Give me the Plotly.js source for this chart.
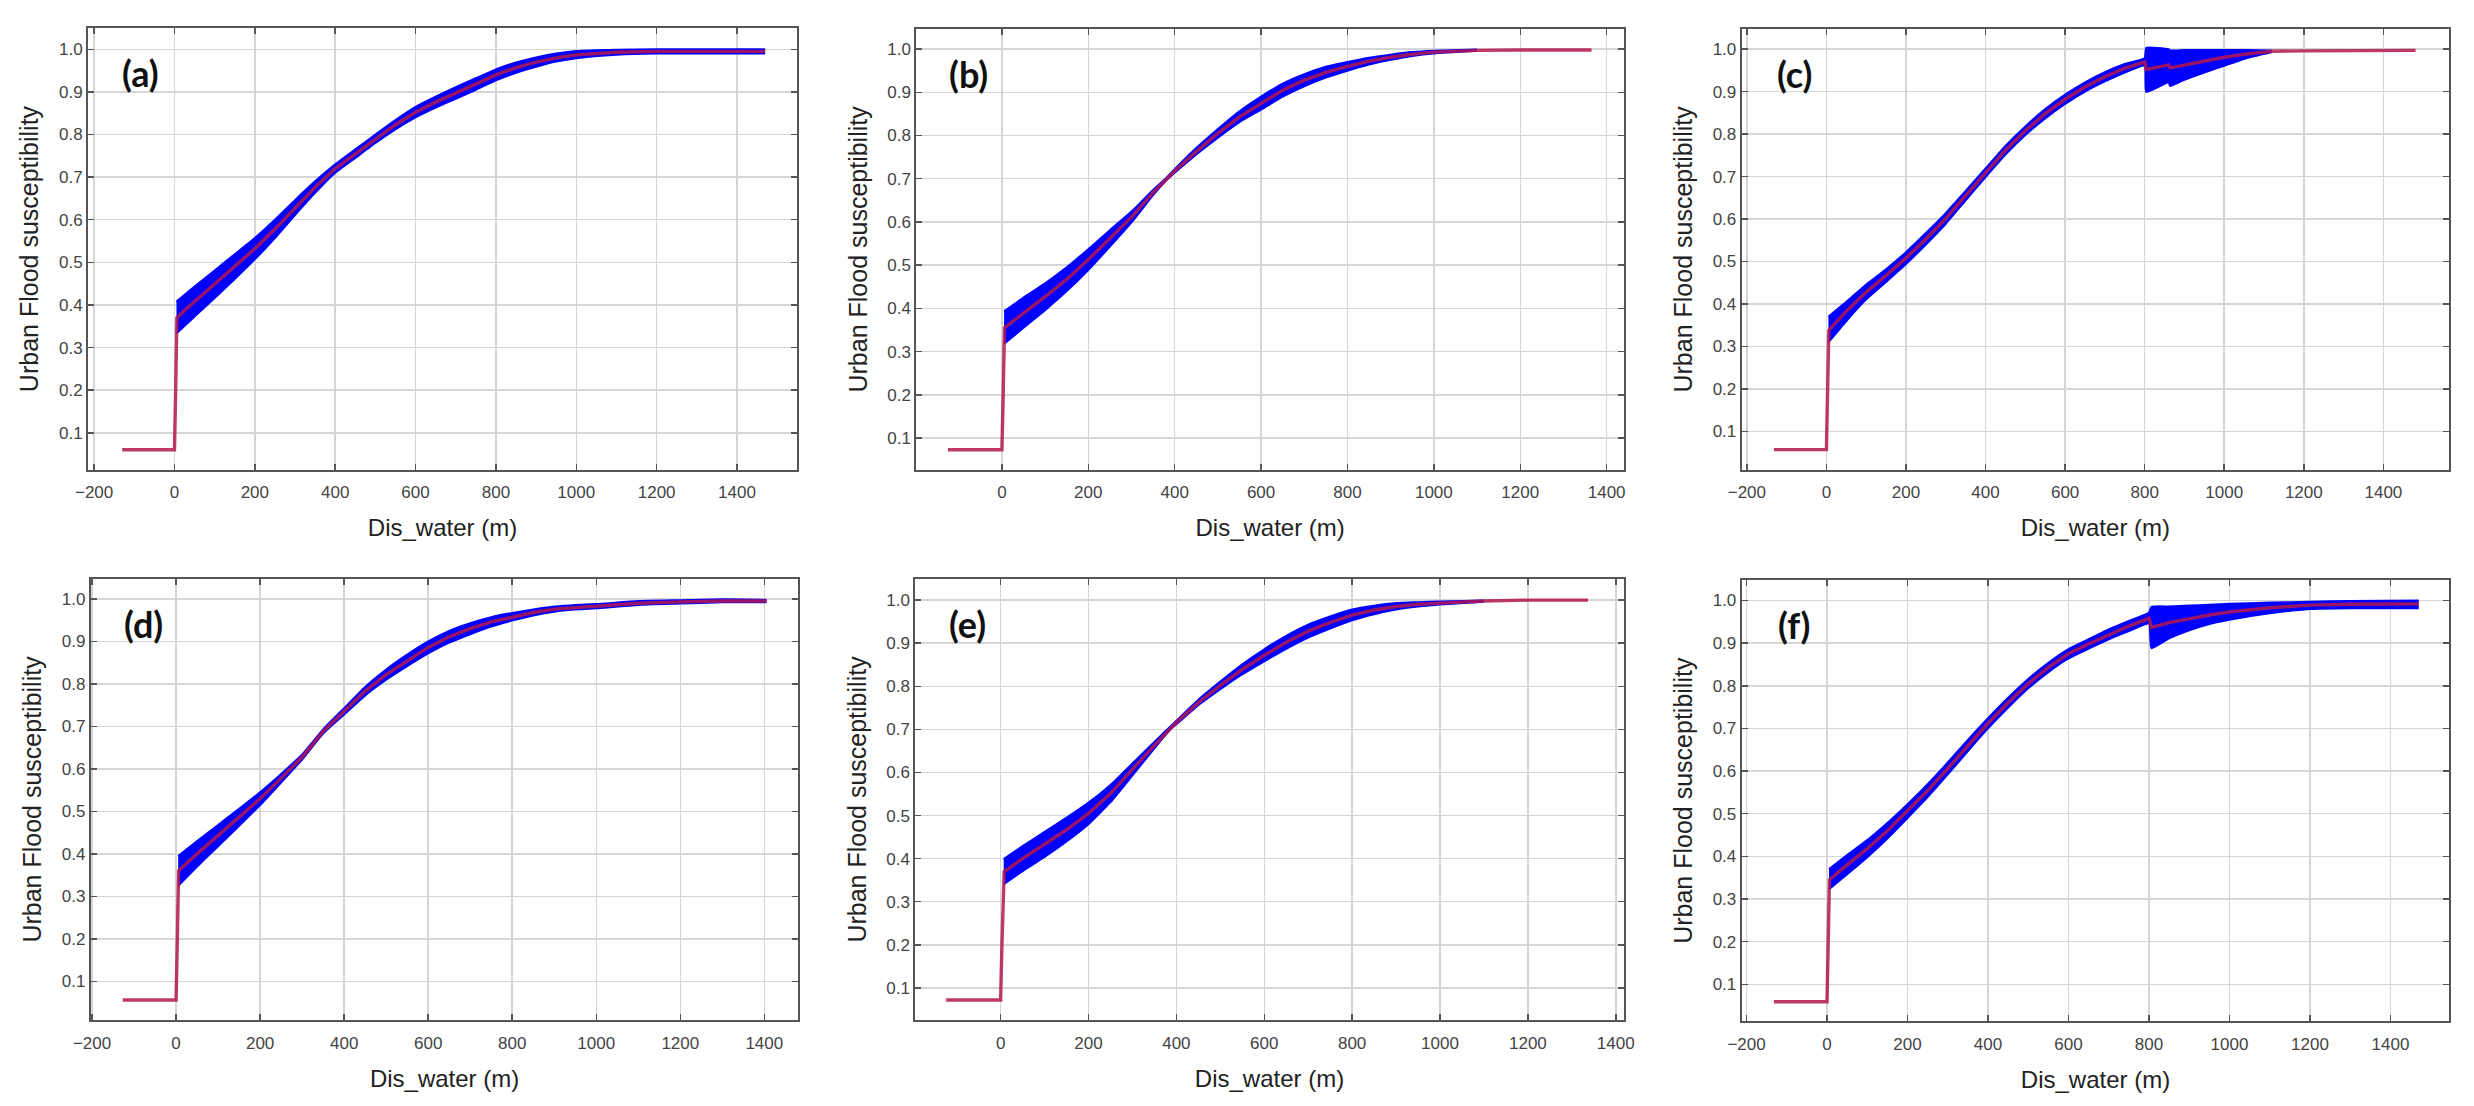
<!DOCTYPE html>
<html>
<head>
<meta charset="utf-8">
<script src="https://cdn.plot.ly/plotly-3.0.1.min.js"></script>
<style>
  html, body { margin: 0; padding: 0; background: #fff; }
  #myDiv { width: 2474px; height: 1106px; }
</style>
</head>
<body>
<div id="myDiv"></div>
<script>
// mean response curve (red) and envelope (blue) for every panel

// (a)
var aX = [-130, 0, 3, 6, 25, 50, 75, 100, 150, 200, 250, 300, 350, 400, 450, 500, 550, 600, 650, 700, 750, 800, 850, 900, 950, 1000, 1100, 1200, 1470];
var aMean = [0.06, 0.06, 0.2, 0.37, 0.387, 0.408, 0.428, 0.448, 0.49, 0.532, 0.578, 0.628, 0.676, 0.72, 0.755, 0.79, 0.823, 0.852, 0.876, 0.897, 0.918, 0.94, 0.957, 0.97, 0.98, 0.987, 0.993, 0.995, 0.995];
var aBandX = [5, 50, 100, 150, 200, 250, 300, 350, 400, 450, 500, 550, 600, 650, 700, 750, 800, 850, 900, 950, 1000, 1100, 1200, 1300, 1470];
var aUpper = [0.408, 0.443, 0.481, 0.519, 0.557, 0.600, 0.646, 0.690, 0.730, 0.765, 0.800, 0.834, 0.865, 0.889, 0.911, 0.932, 0.953, 0.969, 0.981, 0.990, 0.996, 0.999, 1.0, 1.0, 1.0];
var aLower = [0.333, 0.373, 0.416, 0.461, 0.507, 0.557, 0.611, 0.663, 0.710, 0.745, 0.780, 0.812, 0.840, 0.863, 0.884, 0.905, 0.927, 0.945, 0.959, 0.971, 0.979, 0.987, 0.990, 0.990, 0.990];

// (b)
var bX = [-125, 0, 3, 6, 25, 50, 75, 100, 150, 200, 250, 300, 350, 400, 450, 500, 550, 600, 650, 700, 750, 800, 850, 900, 950, 1000, 1100, 1200, 1365];
var bMean = [0.073, 0.073, 0.2, 0.355, 0.37, 0.39, 0.408, 0.427, 0.467, 0.513, 0.562, 0.611, 0.668, 0.718, 0.763, 0.805, 0.843, 0.875, 0.905, 0.928, 0.946, 0.96, 0.972, 0.981, 0.988, 0.993, 0.997, 0.998, 0.998];
var bBandX = [5, 50, 100, 150, 200, 250, 300, 350, 380, 400, 450, 500, 550, 600, 650, 700, 750, 800, 850, 900, 950, 1000, 1100];
var bUpper = [0.393, 0.425, 0.458, 0.495, 0.537, 0.581, 0.624, 0.674, 0.701, 0.722, 0.771, 0.815, 0.856, 0.890, 0.920, 0.942, 0.959, 0.970, 0.980, 0.987, 0.993, 0.996, 0.999];
var bLower = [0.318, 0.355, 0.396, 0.440, 0.489, 0.543, 0.599, 0.662, 0.696, 0.714, 0.756, 0.795, 0.831, 0.860, 0.890, 0.914, 0.934, 0.950, 0.964, 0.975, 0.984, 0.990, 0.996];

// (c)
var cX = [-132, 0, 3, 6, 50, 100, 150, 200, 250, 300, 350, 400, 450, 500, 550, 600, 650, 700, 750, 800, 804, 830, 860, 864, 900, 950, 1000, 1050, 1120, 1200, 1481];
var cMean = [0.057, 0.057, 0.2, 0.338, 0.383, 0.428, 0.467, 0.508, 0.553, 0.601, 0.655, 0.709, 0.762, 0.808, 0.848, 0.882, 0.911, 0.935, 0.955, 0.97, 0.952, 0.957, 0.963, 0.956, 0.963, 0.973, 0.981, 0.988, 0.995, 0.996, 0.997];
var cBandX = [5, 50, 100, 150, 200, 250, 300, 350, 400, 450, 500, 550, 600, 650, 700, 750, 800, 804, 860, 864, 900, 950, 1000, 1050, 1120];
var cUpper = [0.37, 0.405, 0.446, 0.482, 0.522, 0.567, 0.614, 0.666, 0.719, 0.772, 0.818, 0.859, 0.893, 0.922, 0.946, 0.965, 0.979, 1.003, 1.0, 0.997, 0.998, 0.998, 0.998, 0.998, 0.997];
var cLower = [0.31, 0.36, 0.411, 0.452, 0.494, 0.540, 0.589, 0.644, 0.699, 0.752, 0.798, 0.837, 0.871, 0.900, 0.924, 0.945, 0.961, 0.899, 0.922, 0.913, 0.928, 0.945, 0.961, 0.977, 0.993];

// (d)
var dX = [-127, 0, 3, 6, 50, 100, 150, 200, 250, 300, 350, 400, 450, 500, 550, 600, 650, 700, 750, 800, 850, 900, 950, 1000, 1100, 1200, 1300, 1405];
var dMean = [0.056, 0.056, 0.2, 0.36, 0.40, 0.443, 0.486, 0.53, 0.578, 0.628, 0.688, 0.735, 0.783, 0.822, 0.855, 0.886, 0.911, 0.93, 0.946, 0.958, 0.968, 0.976, 0.98, 0.983, 0.99, 0.993, 0.995, 0.995];
var dBandX = [5, 50, 100, 150, 200, 250, 300, 350, 400, 450, 500, 550, 600, 650, 700, 750, 800, 850, 900, 950, 1000, 1100, 1200, 1300, 1405];
var dUpper = [0.395, 0.430, 0.468, 0.506, 0.545, 0.588, 0.634, 0.693, 0.743, 0.793, 0.834, 0.869, 0.900, 0.925, 0.943, 0.957, 0.967, 0.975, 0.982, 0.986, 0.988, 0.995, 0.997, 0.999, 0.998];
var dLower = [0.325, 0.370, 0.418, 0.466, 0.515, 0.568, 0.622, 0.683, 0.728, 0.773, 0.810, 0.842, 0.872, 0.897, 0.917, 0.935, 0.949, 0.961, 0.970, 0.975, 0.978, 0.986, 0.989, 0.992, 0.992];

// (e)
var eX = [-124, 0, 3, 8, 50, 100, 150, 200, 250, 300, 350, 400, 450, 500, 550, 600, 650, 700, 750, 800, 850, 900, 950, 1000, 1100, 1200, 1337];
var eMean = [0.072, 0.072, 0.2, 0.37, 0.40, 0.433, 0.467, 0.505, 0.551, 0.607, 0.663, 0.716, 0.762, 0.802, 0.839, 0.872, 0.902, 0.928, 0.948, 0.965, 0.977, 0.985, 0.99, 0.993, 0.998, 1.0, 1.0];
var eBandX = [7, 50, 100, 150, 200, 250, 300, 350, 390, 400, 450, 500, 550, 600, 650, 700, 750, 800, 850, 900, 950, 1000, 1100];
var eUpper = [0.399, 0.429, 0.462, 0.495, 0.530, 0.571, 0.621, 0.671, 0.710, 0.720, 0.769, 0.811, 0.851, 0.886, 0.917, 0.943, 0.962, 0.978, 0.987, 0.993, 0.995, 0.997, 0.999];
var eLower = [0.341, 0.371, 0.404, 0.440, 0.480, 0.531, 0.593, 0.656, 0.704, 0.712, 0.756, 0.793, 0.828, 0.858, 0.887, 0.913, 0.934, 0.953, 0.967, 0.978, 0.985, 0.990, 0.996];

// (f)
var fX = [-132, 0, 3, 6, 50, 100, 150, 200, 250, 300, 350, 400, 450, 500, 550, 600, 650, 700, 750, 800, 806, 850, 900, 950, 1000, 1100, 1200, 1300, 1470];
var fMean = [0.059, 0.059, 0.2, 0.345, 0.38, 0.418, 0.46, 0.506, 0.554, 0.606, 0.66, 0.712, 0.76, 0.805, 0.843, 0.875, 0.898, 0.92, 0.94, 0.958, 0.937, 0.948, 0.958, 0.966, 0.973, 0.983, 0.989, 0.991, 0.992];
var fBandX = [5, 50, 100, 150, 200, 250, 300, 350, 400, 450, 500, 550, 600, 650, 700, 750, 800, 806, 850, 900, 950, 1000, 1100, 1200, 1300, 1470];
var fUpper = [0.370, 0.403, 0.438, 0.478, 0.522, 0.569, 0.620, 0.673, 0.724, 0.772, 0.816, 0.854, 0.886, 0.909, 0.932, 0.952, 0.971, 0.985, 0.986, 0.988, 0.990, 0.992, 0.995, 0.997, 0.999, 1.0];
var fLower = [0.323, 0.358, 0.398, 0.442, 0.490, 0.539, 0.592, 0.647, 0.700, 0.749, 0.794, 0.832, 0.864, 0.887, 0.909, 0.928, 0.946, 0.888, 0.911, 0.930, 0.945, 0.955, 0.970, 0.980, 0.982, 0.982];

var panelLabels = ['(a)', '(b)', '(c)', '(d)', '(e)', '(f)'];
var xTickVals = [-200, 0, 200, 400, 600, 800, 1000, 1200, 1400];
var yTickVals = [0.1, 0.2, 0.3, 0.4, 0.5, 0.6, 0.7, 0.8, 0.9, 1.0];

var series = [
	{x: aX, mean: aMean, bx: aBandX, up: aUpper, lo: aLower},
	{x: bX, mean: bMean, bx: bBandX, up: bUpper, lo: bLower},
	{x: cX, mean: cMean, bx: cBandX, up: cUpper, lo: cLower},
	{x: dX, mean: dMean, bx: dBandX, up: dUpper, lo: dLower},
	{x: eX, mean: eMean, bx: eBandX, up: eUpper, lo: eLower},
	{x: fX, mean: fMean, bx: fBandX, up: fUpper, lo: fLower},
];

// plot frames measured on the picture (paper fractions) and axis ranges
var xDomains = [[0.0356, 0.3221], [0.3704, 0.6564], [0.7040, 0.9899],
                [0.0367, 0.3227], [0.3700, 0.6563], [0.7040, 0.9900]];
var yDomains = [[0.5750, 0.9747], [0.5750, 0.9740], [0.5750, 0.9740],
                [0.0774, 0.4769], [0.0774, 0.4769], [0.0765, 0.4756]];
var xRanges = [[-215, 1549], [-198, 1440], [-213, 1565], [-203, 1481], [-194, 1418], [-212, 1546]];
var yRanges = [[0.0125, 1.05], [0.026, 1.047], [0.009, 1.048], [0.008, 1.048], [0.0246, 1.05], [0.013, 1.048]];

var bandBlue = '#0000ff';
var meanRed = 'rgba(180,22,78,0.85)';
var fontFam = '"Liberation Sans", Arial, sans-serif';

var data = [];
var layout = {
	width: 2474,
	height: 1106,
	margin: {l: 0, r: 0, t: 0, b: 0},
	paper_bgcolor: '#fff',
	plot_bgcolor: '#fff',
	showlegend: false,
	font: {family: fontFam, color: '#333'},
	annotations: []
};

series.forEach(function (s, i) {
	var n = i === 0 ? '' : String(i + 1);
	var xa = 'x' + n, ya = 'y' + n;

	data.push({
		type: 'scatter', mode: 'lines', xaxis: xa, yaxis: ya,
		x: s.bx, y: s.lo,
		line: {color: bandBlue, width: 2, shape: 'spline', smoothing: 0.4},
		hoverinfo: 'skip'
	});
	data.push({
		type: 'scatter', mode: 'lines', xaxis: xa, yaxis: ya,
		x: s.bx, y: s.up,
		fill: 'tonexty', fillcolor: bandBlue,
		line: {color: bandBlue, width: 2, shape: 'spline', smoothing: 0.4},
		hoverinfo: 'skip'
	});
	data.push({
		type: 'scatter', mode: 'lines', xaxis: xa, yaxis: ya,
		x: s.x, y: s.mean,
		line: {color: meanRed, width: 3.4}
	});

	layout['xaxis' + n] = {
		domain: xDomains[i],
		range: xRanges[i],
		anchor: ya,
		tickvals: xTickVals,
		showgrid: true, gridcolor: '#d6d6d6', gridwidth: 1.5,
		zeroline: false,
		showline: true, linecolor: '#555', linewidth: 2, mirror: 'allticks',
		ticks: 'inside', ticklen: 6, tickcolor: '#555', tickwidth: 1.5,
		ticklabelstandoff: 6,
		tickfont: {family: fontFam, size: 17, color: '#444'},
		title: {text: 'Dis_water (m)', standoff: 18, font: {family: fontFam, size: 24, color: '#222'}}
	};
	layout['yaxis' + n] = {
		domain: yDomains[i],
		range: yRanges[i],
		anchor: xa,
		tickvals: yTickVals,
		tickformat: '.1f',
		showgrid: true, gridcolor: '#d6d6d6', gridwidth: 1.5,
		zeroline: false,
		showline: true, linecolor: '#555', linewidth: 2, mirror: 'allticks',
		ticks: 'inside', ticklen: 6, tickcolor: '#555', tickwidth: 1.5,
		tickfont: {family: fontFam, size: 17, color: '#444'},
		title: {text: 'Urban Flood susceptibility', standoff: 13, font: {family: fontFam, size: 25, color: '#222'}}
	};

	layout.annotations.push({
		text: '<b>' + panelLabels[i] + '</b>',
		xref: xa + ' domain', yref: ya + ' domain',
		x: 0.074, y: 0.898,
		xanchor: 'center', yanchor: 'middle',
		showarrow: false,
		font: {family: 'Lato, "Open Sans", sans-serif', size: 36, color: '#111'}
	});
});

var config = {
	staticPlot: true,
	displaylogo: false
};

Plotly.newPlot('myDiv', data, layout, config);
</script>
</body>
</html>
